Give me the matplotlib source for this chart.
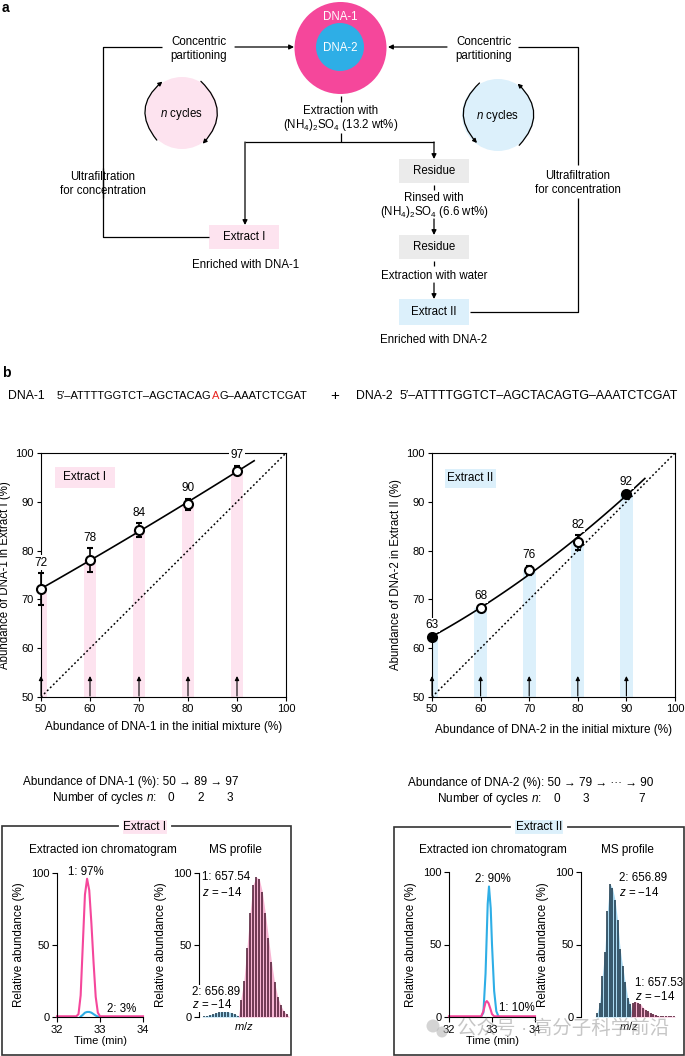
import numpy as np
import matplotlib
matplotlib.use('Agg')
import matplotlib.pyplot as plt
from matplotlib.patches import Circle, Rectangle, FancyArrowPatch

plt.rcParams['font.family'] = ['Liberation Sans', 'DejaVu Sans', 'Noto Sans CJK SC']
plt.rcParams['mathtext.fontset'] = 'custom'
plt.rcParams['mathtext.rm'] = 'Liberation Sans'
plt.rcParams['mathtext.it'] = 'Liberation Sans:italic'
plt.rcParams['font.size'] = 8
plt.rcParams['axes.linewidth'] = 0.8

W, H = 685, 1056

PINK = '#f5479b'
BLUE = '#2eaee6'
PINK_LT = '#fde3ef'
BLUE_LT = '#dcf0fb'
GREY_LT = '#ebebeb'

# ---- panel b data ----
init_abund = [50, 60, 70, 80, 90]
dna1_extract = [72.1, 78.1, 84.2, 89.5, 96.4]
dna1_err = [3.3, 2.4, 1.4, 1.1, 1.0]
dna1_text = ['72', '78', '84', '90', '97']
dna2_extract = [62.3, 68.2, 76.0, 81.7, 91.7]
dna2_err = [0.3, 0.4, 0.9, 1.5, 0.3]
dna2_text = ['63', '68', '76', '82', '92']
dna2_filled = [True, False, False, False, True]

cycles1_n = ['0', '2', '3']
cycles2_n = ['0', '3', '7']

# extracted ion chromatograms (time in min, relative abundance %)
eic1_t_dna1 = [32.0, 32.45, 32.5, 32.55, 32.6, 32.65, 32.7, 32.75, 32.8, 32.85, 32.9, 32.95, 33.0, 34.0]
eic1_dna1 = [0.5, 0.5, 2, 15, 50, 85, 96, 88, 65, 38, 14, 3, 0.5, 0.5]
eic1_t_dna2 = [32.55, 32.6, 32.65, 32.7, 32.75, 32.8, 32.85, 32.9, 32.95]
eic1_dna2 = [0.3, 1.5, 3, 3.5, 3.5, 3, 2, 1, 0.3]

eic2_t_dna2 = [32.75, 32.8, 32.85, 32.9, 32.93, 32.97, 33.0, 33.05, 33.1, 33.15]
eic2_dna2 = [0.5, 3, 30, 78, 90, 75, 50, 18, 4, 0.5]
eic2_t_dna1 = [32.0, 32.75, 32.8, 32.85, 32.88, 32.92, 32.97, 33.0, 33.05, 34.0]
eic2_dna1 = [0.5, 0.5, 4, 10, 11, 9.5, 5, 2, 0.5, 0.5]

# MS isotope envelopes (relative abundance %)
ms1_dna2 = [0.5, 1, 1.5, 2, 3, 3.5, 4, 4, 3.5, 3, 2, 1]
ms1_dna1 = [12, 25, 48, 72, 92, 97, 96, 87, 72, 55, 38, 24, 14, 8, 4, 2]
ms2_dna2 = [2.5, 10, 28, 45, 73, 92, 89, 81, 67, 47, 35, 24, 13, 9]
ms2_dna1 = [10, 10.6, 10, 9, 6.5, 5, 3.8, 2.5, 2, 1.3, 0.8, 0.5, 0.5, 1, 0.5, 0.8, 0.5]

fig = plt.figure(figsize=(W / 100, H / 100), dpi=100)


def px_axes(x0, y0, x1, y1):
    return fig.add_axes([x0 / W, 1 - y1 / H, (x1 - x0) / W, (y1 - y0) / H])


def titration(rect, vals, err, labels, filled, bar_col, tag, tag_box, ylab, xlab, end_x, xpad):
    ax = px_axes(*rect)
    ax.bar(init_abund, np.array(vals) - 50, bottom=50, width=2.6, color=bar_col, lw=0, zorder=1)
    ax.plot([50, 100], [50, 100], ls=(0, (1.2, 1.6)), color='k', lw=1.1, zorder=2)
    coef = np.polyfit(init_abund, vals, 2)
    xs = np.linspace(50, end_x, 100)
    ax.plot(xs, np.polyval(coef, xs), color='k', lw=1.2, zorder=3)
    eb = ax.errorbar(init_abund, vals, yerr=err, fmt='none', ecolor='k', elinewidth=1.2,
                     capsize=2.5, capthick=1.5, zorder=4)
    for a in eb.get_children():
        a.set_clip_on(False)
    for x, v, e, lab, f in zip(init_abund, vals, err, labels, filled):
        ax.plot(x, v, 'o', ms=6.5, mfc='k' if f else 'white', mec='k', mew=1.5, zorder=5, clip_on=False)
        ax.annotate(lab, (x, v + e), xytext=(0, 7.5), textcoords='offset points', ha='center',
                    va='center', fontsize=8.5, zorder=6, annotation_clip=False,
                    bbox=dict(boxstyle='square,pad=0.1', fc='white', ec='none'))
        ax.annotate('', xy=(x, 54.3), xytext=(x, 50.2), annotation_clip=False,
                    arrowprops=dict(arrowstyle='-|>', color='k', lw=0.8, mutation_scale=6,
                                    shrinkA=0, shrinkB=0))
    ax.add_patch(Rectangle(tag_box[:2], tag_box[2], tag_box[3], transform=ax.transAxes,
                           fc=bar_col, ec='none', zorder=1))
    ax.text(tag_box[0] + tag_box[2] / 2, tag_box[1] + tag_box[3] / 2, tag, transform=ax.transAxes,
            ha='center', va='center', fontsize=8.5)
    ax.set_xlim(50, 100)
    ax.set_ylim(50, 100)
    ax.set_xticks(range(50, 101, 10))
    ax.set_yticks(range(50, 101, 10))
    ax.tick_params(direction='out', length=3, width=0.8, pad=2, labelsize=8)
    ax.set_ylabel(ylab, fontsize=8.3, labelpad=3)
    ax.set_xlabel(xlab, fontsize=8.5, labelpad=xpad)
    return ax


titration((41, 453, 286, 697), dna1_extract, dna1_err, dna1_text, [False] * 5, PINK_LT,
          'Extract I', (0.057, 0.857, 0.245, 0.086),
          'Abundance of DNA-1 in Extract I (%)', 'Abundance of DNA-1 in the initial mixture (%)', 93.5, 5)
titration((432, 453, 675, 697), dna2_extract, dna2_err, dna2_text, dna2_filled, BLUE_LT,
          'Extract II', (0.053, 0.857, 0.21, 0.077),
          'Abundance of DNA-2 in Extract II (%)', 'Abundance of DNA-2 in the initial mixture (%)', 93.8, 7)


def eic(rect, t_b, y_b, t_p, y_p):
    ax = px_axes(*rect)
    ax.plot(t_b, y_b, color=BLUE, lw=1.5, clip_on=False)
    ax.plot(t_p, y_p, color=PINK, lw=1.5, clip_on=False)
    ax.set_xlim(32, 34)
    ax.set_ylim(0, 100)
    ax.set_xticks([32, 33, 34])
    ax.set_yticks([0, 50, 100])
    for s in ('top', 'right'):
        ax.spines[s].set_visible(False)
    ax.tick_params(direction='out', length=3.5, width=0.8, pad=2, labelsize=8)
    ax.set_xlabel('Time (min)', fontsize=8, labelpad=1)
    ax.set_ylabel('Relative abundance (%)', fontsize=8.4, labelpad=4)
    ax.patch.set_alpha(0)
    return ax


def ms(rect, blue, pink, xlim):
    ax = px_axes(*rect)
    xb = np.arange(len(blue))
    xp = np.arange(len(blue), len(blue) + len(pink))
    for xx, hh, lt, dk in ((xb, blue, '#a9d9f1', '#183447'), (xp, pink, '#f7b5d3', '#4b1830')):
        ex = np.concatenate([[xx[0] - 0.8], xx, [xx[-1] + 0.8]])
        ey = np.concatenate([[0], hh, [0]])
        ax.fill_between(ex, 0, ey, color=lt, lw=0, zorder=1)
        ax.vlines(xx, 0, hh, color=dk, lw=1.1, zorder=2)
    ax.set_xlim(*xlim)
    ax.set_ylim(0, 100)
    ax.set_xticks([])
    ax.set_yticks([0, 50, 100])
    for s in ('top', 'right', 'bottom'):
        ax.spines[s].set_visible(False)
    ax.tick_params(direction='out', length=3.5, width=0.8, pad=2, labelsize=8)
    ax.set_xlabel('$m/z$', fontsize=8, labelpad=2)
    ax.set_ylabel('Relative abundance (%)', fontsize=8.4, labelpad=4)
    ax.patch.set_alpha(0)
    return ax


ax_e1 = eic((57, 873, 143, 1017), eic1_t_dna2, eic1_dna2, eic1_t_dna1, eic1_dna1)
ax_e1.text(32.68, 100.5, '1: 97%', ha='center', va='center', fontsize=8.3)
ax_e1.text(33.5, 5.6, '2: 3%', ha='center', va='center', fontsize=8.3)
ax_e2 = eic((449, 872, 535, 1017), eic2_t_dna2, eic2_dna2, eic2_t_dna1, eic2_dna1)
ax_e2.text(33.02, 95, '2: 90%', ha='center', va='center', fontsize=8.3)
ax_e2.text(33.58, 6.2, '1: 10%', ha='center', va='center', fontsize=8.3)

ms((199, 873, 289, 1017), ms1_dna2, ms1_dna1, (-1.6, 27.7))
ms((581, 872, 677, 1017), ms2_dna2, ms2_dna1, (-6.3, 31.3))

# ---- overlay in pixel coordinates ----
ax0 = fig.add_axes([0, 0, 1, 1], zorder=5)
ax0.set_xlim(0, W)
ax0.set_ylim(H, 0)
ax0.axis('off')
ax0.patch.set_alpha(0)

FS = 8.3


def line(xs, ys):
    ax0.plot(xs, ys, color='k', lw=0.9, solid_capstyle='butt')


def arrow(p0, p1, rad=0.0, ms=7):
    ax0.add_patch(FancyArrowPatch(p0, p1, arrowstyle='-|>', mutation_scale=ms, lw=0.9, color='k',
                                  shrinkA=0, shrinkB=0, connectionstyle=f'arc3,rad={rad}'))


def label(x, y, s, **kw):
    kw.setdefault('fontsize', FS)
    ax0.text(x, y, s, ha=kw.pop('ha', 'center'), va=kw.pop('va', 'center'), **kw)


def box(x0, y0, x1, y1, fc, s):
    ax0.add_patch(Rectangle((x0, y0), x1 - x0, y1 - y0, fc=fc, ec='none'))
    label((x0 + x1) / 2, (y0 + y1) / 2, s)


ax0.text(2, 1, 'a', fontsize=10, fontweight='bold', ha='left', va='top')
ax0.text(2, 366, 'b', fontsize=10, fontweight='bold', ha='left', va='top')

# concentric circles
ax0.add_patch(Circle((340.5, 48), 46, fc=PINK, ec='none'))
ax0.add_patch(Circle((340, 47), 24, fc=BLUE, ec='none'))
label(340, 17, 'DNA-1', color='white')
label(340, 48, 'DNA-2', color='white')

# left loop
line([209, 103, 103], [237, 237, 168])
line([103, 103, 162], [198, 47, 47])
arrow((235, 47), (294, 47))
label(199, 49, 'Concentric\npartitioning', linespacing=1.15)
label(103, 184, 'Ultrafiltration\nfor concentration', linespacing=1.15)
ax0.add_patch(Circle((182, 113), 36, fc=PINK_LT, ec='none'))
arrow((156.8, 140.1), (162.4, 81.6), rad=-0.49, ms=6)
arrow((200.9, 81.3), (202.7, 143.7), rad=-0.49, ms=6)
label(182, 114, '$n$ cycles')

# right loop
arrow((447, 47), (388, 47))
line([518, 578, 578], [47, 47, 165])
line([578, 578, 470], [198, 312, 312])
label(484, 49, 'Concentric\npartitioning', linespacing=1.15)
label(578, 183, 'Ultrafiltration\nfor concentration', linespacing=1.15)
ax0.add_patch(Circle((498, 115), 36, fc=BLUE_LT, ec='none'))
arrow((519.2, 145.3), (517.6, 83.6), rad=0.49, ms=6)
arrow((479.5, 83.0), (477.0, 143.0), rad=0.49, ms=6)
label(498, 116, '$n$ cycles')

# central flow
line([341, 341], [96, 102])
label(341, 111, 'Extraction with')
label(341, 125, '(NH$_4$)$_2$SO$_4$ (13.2 wt%)')
line([341, 341], [133, 142])
line([245, 434], [142, 142])
arrow((245, 142), (245, 225))
arrow((434, 142), (434, 159))
box(209, 225, 279, 249, PINK_LT, 'Extract I')
label(246, 265, 'Enriched with DNA-1')
box(399, 159, 469, 183, GREY_LT, 'Residue')
line([434, 434], [185, 190])
label(434, 198, 'Rinsed with')
label(434, 212, '(NH$_4$)$_2$SO$_4$ (6.6 wt%)')
arrow((434, 219), (434, 235))
box(399, 235, 469, 259, GREY_LT, 'Residue')
line([434, 434], [261, 266])
label(434, 276, 'Extraction with water')
arrow((434, 283), (434, 299))
box(399, 299, 469, 325, BLUE_LT, 'Extract II')
label(434, 340, 'Enriched with DNA-2')

# sequences
SQ = 8
ax0.text(8, 396, 'DNA-1', fontsize=8.8, ha='left', va='center')
t1 = ax0.text(57, 396, '5\u2032\u2013ATTTTGGTCT\u2013AGCTACAG', fontsize=SQ, ha='left', va='center')
t2 = ax0.annotate('A', xy=(1, 0), xycoords=t1, fontsize=SQ, ha='left', va='bottom', color='#e8231f')
ax0.annotate('G\u2013AAATCTCGAT', xy=(1, 0), xycoords=t2, fontsize=SQ, ha='left', va='bottom')
ax0.text(335, 396, '+', fontsize=11, ha='center', va='center')
ax0.text(356, 396, 'DNA-2', fontsize=8.8, ha='left', va='center')
ax0.text(400, 396, '5\u2032\u2013ATTTTGGTCT\u2013AGCTACAGTG\u2013AAATCTCGAT', fontsize=8.9, ha='left', va='center')

# cycle summaries
label(23, 782, 'Abundance of DNA-1 (%): 50 \u2192 89 \u2192 97', ha='left', fontsize=8.5)
label(157, 798, 'Number of cycles $n$:', ha='right', fontsize=8.5)
for xx, s in zip([171, 201, 230], cycles1_n):
    label(xx, 798, s, fontsize=8.5)
label(408, 783, 'Abundance of DNA-2 (%): 50 \u2192 79 \u2192 \u00b7\u00b7\u00b7 \u2192 90', ha='left', fontsize=8.5)
label(542, 799, 'Number of cycles $n$:', ha='right', fontsize=8.5)
for xx, s in zip([557, 586, 642], cycles2_n):
    label(xx, 799, s, fontsize=8.5)

# bottom frames
ax0.add_patch(Rectangle((2, 826), 289, 229, fill=False, ec='#333333', lw=1.2))
ax0.add_patch(Rectangle((394, 827), 290, 228, fill=False, ec='#333333', lw=1.2))
label(145, 827, 'Extract I', fontsize=8.5,
      bbox=dict(boxstyle='square,pad=0.25', fc=PINK_LT, ec='white', lw=3))
label(539, 827, 'Extract II', fontsize=8.5,
      bbox=dict(boxstyle='square,pad=0.25', fc=BLUE_LT, ec='white', lw=3))
label(103, 850, 'Extracted ion chromatogram', fontsize=8.5)
label(235, 850, 'MS profile', fontsize=8.5)
label(493, 850, 'Extracted ion chromatogram', fontsize=8.5)
label(627, 850, 'MS profile', fontsize=8.5)

# MS peak annotations
label(202, 877, '1: 657.54', ha='left')
label(202, 892, '$z$ = \u221214', ha='left')
label(192, 992, '2: 656.89', ha='left', bbox=dict(boxstyle='square,pad=0.1', fc='white', ec='none'))
label(192, 1004, '$z$ = \u221214', ha='left', bbox=dict(boxstyle='square,pad=0.1', fc='white', ec='none'))
label(619, 878, '2: 656.89', ha='left')
label(619, 892, '$z$ = \u221214', ha='left')
label(635, 983, '1: 657.53', ha='left')
label(635, 996, '$z$ = \u221214', ha='left')

# watermark
ax0.add_patch(Circle((433, 1026), 6.5, fc='#b8b8b8', ec='none', alpha=0.6))
ax0.add_patch(Circle((442, 1032), 5.5, fc='#b8b8b8', ec='none', alpha=0.6))
label(457, 1029, '公众号 · 高分子科学前沿', ha='left', fontsize=14, color='#a0a0a0', alpha=0.6)

fig.savefig('out.png', dpi=100)
